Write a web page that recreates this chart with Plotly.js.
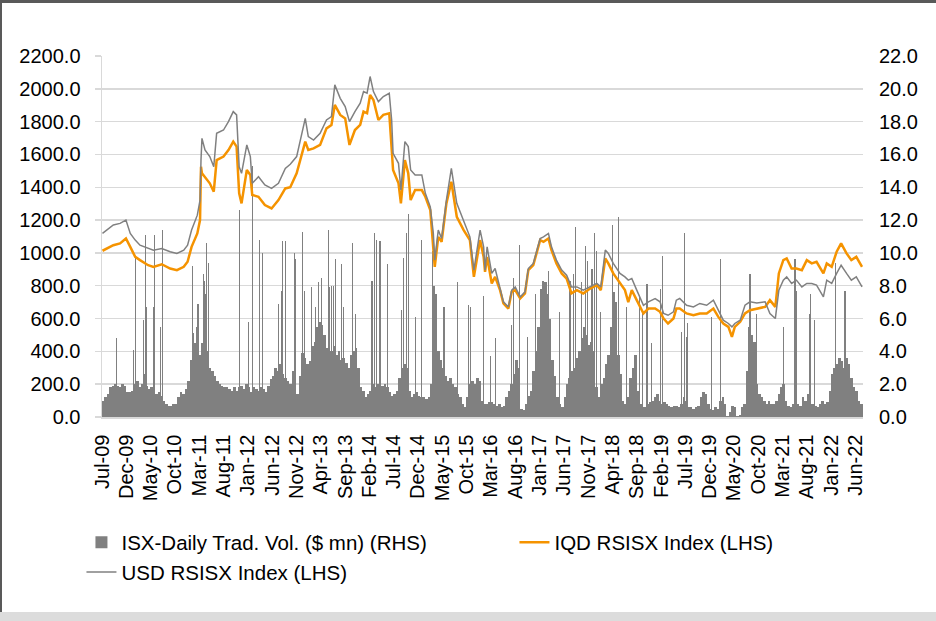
<!DOCTYPE html>
<html>
<head>
<meta charset="utf-8">
<script src="https://cdn.plot.ly/plotly-3.0.1.min.js"></script>
<style>
  html, body { margin: 0; padding: 0; background: #ffffff; }
  #wrap { position: relative; width: 936px; height: 621px; overflow: hidden; }
  #chart { position: absolute; left: 0; top: 0; width: 936px; height: 621px; }
  .frameTop { position: absolute; left: 0; top: 0; width: 936px; height: 3px; background: #595959; }
  .frameLeft { position: absolute; left: 0; top: 0; width: 2px; height: 612px; background: #595959; }
  .frameBottom { position: absolute; left: 0; top: 612px; width: 936px; height: 9px; background: #dcdcdc; }
</style>
</head>
<body>
<div id="wrap">
  <div id="chart"></div>
  <div class="frameTop"></div>
  <div class="frameLeft"></div>
  <div class="frameBottom"></div>
</div>
<script>
// ---------------- DATA ----------------
// Index lines (LHS)
var lineDates = [
 '2009-07-04','2009-09-10','2009-10-22','2009-11-28','2009-12-25','2010-01-25','2010-02-24','2010-04-16','2010-05-19','2010-07-10',
 '2010-09-01','2010-10-13','2010-11-25','2010-12-19','2011-01-13','2011-02-18','2011-03-07','2011-03-13','2011-03-19','2011-04-07',
 '2011-05-07','2011-06-01','2011-06-19','2011-08-01','2011-09-01','2011-10-01','2011-10-22','2011-11-07','2011-11-22','2011-12-25',
 '2012-01-16','2012-01-28','2012-03-07','2012-04-16','2012-05-28','2012-07-10','2012-08-22','2012-09-22','2012-11-01','2012-12-25',
 '2013-01-13','2013-02-15','2013-03-28','2013-05-07','2013-06-07','2013-06-28','2013-08-01','2013-09-01','2013-09-28','2013-11-01',
 '2013-12-04','2013-12-25','2014-01-16','2014-02-04','2014-02-25','2014-03-28','2014-04-28','2014-06-04','2014-06-19','2014-06-28',
 '2014-08-01','2014-08-16','2014-09-10','2014-10-01','2014-10-16','2014-11-13','2014-12-25','2015-01-16','2015-02-16','2015-03-07',
 '2015-03-16','2015-04-07','2015-04-28','2015-05-28','2015-06-28','2015-08-01','2015-09-13','2015-10-22','2015-11-16','2015-12-25',
 '2016-01-16','2016-01-25','2016-02-07','2016-03-07','2016-03-28','2016-04-28','2016-05-19','2016-06-19','2016-07-10','2016-08-01',
 '2016-09-01','2016-10-01','2016-10-22','2016-11-22','2017-01-04','2017-01-25','2017-02-25','2017-03-16','2017-04-16','2017-05-19',
 '2017-06-19','2017-07-19','2017-08-22','2017-10-01','2017-11-13','2017-12-25','2018-01-19','2018-02-16','2018-03-07','2018-04-07',
 '2018-05-19','2018-06-19','2018-07-10','2018-08-01','2018-09-01','2018-10-13','2018-11-13','2018-12-25','2019-01-25','2019-02-16',
 '2019-03-16','2019-04-19','2019-05-07','2019-05-28','2019-07-10','2019-08-22','2019-10-01','2019-11-13','2019-12-25','2020-01-25',
 '2020-02-25','2020-03-28','2020-04-19','2020-05-07','2020-06-10','2020-07-10','2020-08-10','2020-09-22','2020-11-13','2020-12-13',
 '2021-01-16','2021-02-07','2021-03-07','2021-03-28','2021-04-28','2021-05-28','2021-07-01','2021-08-01','2021-09-01','2021-10-01',
 '2021-11-13','2021-12-04','2022-01-04','2022-02-04','2022-03-04','2022-04-07','2022-05-07','2022-06-07','2022-07-13'
];
var usdIndex = [
 1119,1170,1180,1200,1119,1078,1047,1027,1017,1027,
 1007,997,1017,1047,1139,1230,1322,1566,1698,1627,
 1587,1525,1729,1749,1800,1861,1841,1525,1485,1658,
 1587,1424,1464,1414,1393,1424,1515,1540,1587,1820,
 1709,1688,1729,1810,1831,2024,1942,1892,1800,1861,
 1912,1983,1973,2075,1983,1922,1953,1973,1810,1607,
 1546,1383,1678,1648,1505,1475,1475,1363,1281,1119,
 956,1139,1088,1322,1515,1302,1200,1098,895,1139,
 1037,895,1037,875,905,793,702,671,773,793,
 732,763,905,936,1088,1098,1119,1037,956,895,
 864,793,793,773,793,814,793,1017,997,936,
 875,854,834,844,773,681,702,722,702,631,
 620,641,712,722,681,671,692,681,712,651,
 590,570,549,570,590,681,702,695,702,631,
 600,773,834,854,814,834,793,814,814,804,
 732,834,814,875,925,875,834,854,793
];
var iqdIndex = [
 1013,1047,1058,1088,1037,976,956,925,915,931,
 905,895,915,946,1037,1119,1200,1525,1485,1464,
 1424,1373,1566,1587,1627,1678,1648,1363,1302,1505,
 1475,1353,1342,1292,1271,1322,1393,1400,1485,1678,
 1627,1637,1658,1759,1780,1902,1841,1820,1658,1749,
 1780,1861,1851,1963,1932,1810,1841,1851,1648,1505,
 1424,1302,1566,1485,1322,1383,1383,1342,1261,1037,
 915,1098,1068,1302,1434,1220,1139,1078,854,1078,
 976,885,976,814,854,773,692,661,763,773,
 722,753,895,925,1078,1068,1088,1017,936,875,
 844,753,773,753,783,804,773,966,936,875,
 814,773,700,773,712,631,661,661,641,600,
 570,600,661,661,631,620,631,631,661,610,
 570,549,488,549,580,631,651,661,671,712,
 671,875,956,966,905,905,895,956,936,946,
 875,936,915,1007,1058,997,956,976,915
];

// Daily trading volume (RHS): typical level per half-month, Jul-09 .. Jul-22
var volStartYear = 2009, volStartMonth = 7;
var volBody = [
 1.0,1.2, 1.4,1.8, 1.9,2.0, 1.9,1.8, 2.0,1.9, 1.5,1.5,
 1.6,2.0, 2.2,1.8, 2.0,2.6, 1.9,1.7, 1.8,2.0, 1.4,1.5, 1.3,1.0, 0.8,0.7, 0.7,0.8, 0.8,1.2, 1.5,1.4, 1.7,2.2,
 3.5,4.2, 4.5,4.0, 3.8,4.5, 4.8,4.0, 3.0,2.8, 2.5,2.2, 2.0,1.9, 1.8,1.8, 1.7,1.6, 1.8,1.6, 1.8,1.9, 1.7,2.0,
 1.8,1.5, 1.8,1.7, 1.6,1.8, 1.7,1.5, 1.9,2.3, 2.5,3.0, 2.8,3.2, 2.6,2.4, 2.2,2.0, 2.8,2.5, 1.4,2.5, 3.9,3.6,
 3.2,3.4, 4.3,4.6, 5.5,5.8, 5.6,5.0, 4.2,4.5, 4.0,4.3, 3.8,4.0, 3.5,3.6, 3.3,3.0, 3.8,4.0, 4.2,3.0, 1.8,1.6,
 1.2,1.4, 1.6,2.0, 1.8,2.0, 2.2,1.9, 2.0,1.8, 1.5,1.3, 1.4,1.6, 2.4,3.0, 3.2,3.0, 1.6,1.2, 1.4,1.5, 1.3,1.2,
 1.2,1.1, 1.2,2.0, 8.0,7.5, 4.0,3.5, 3.0,2.5, 2.2,2.4, 2.0,1.8, 1.4,1.2, 0.8,0.6, 1.2,2.0, 2.2,2.0, 2.4,2.2,
 1.0,0.8, 0.8,0.9, 0.9,0.8, 0.7,0.8, 0.6,0.7, 1.2,1.6, 2.0,2.6, 3.5,3.0, 0.5,0.4, 0.8,1.3, 1.6,2.8, 4.0,5.5,
 7.8,8.3, 8.2,7.5, 6.0,3.5, 2.5,1.2, 0.8,0.6, 1.2,2.0, 2.4,2.8, 3.0,3.6, 4.0,4.8, 5.5,5.0, 4.4,4.6, 4.0,1.8,
 1.2,2.0, 2.4,3.2, 3.8,5.5, 7.6,7.0, 3.8,2.6, 1.0,0.8, 1.2,2.4, 3.0,3.8, 1.6,0.8, 0.6,0.6, 0.8,0.9, 1.0,1.2,
 1.4,1.0, 0.8,0.9, 0.8,0.7, 0.6,0.7, 0.7,0.6, 0.8,1.2, 1.0,0.6, 0.6,0.5, 0.6,0.7, 1.2,1.5, 1.4,0.8, 0.5,0.4,
 0.6,0.5, 1.0,1.2, 0.8,0.05, 0.3,0.7, 0.6,0.05, 0.1,0.6, 0.8,2.8, 5.5,5.0, 4.6,2.0, 1.4,1.2, 1.0,0.8, 1.0,0.8,
 0.8,1.0, 1.4,1.8, 2.0,1.0, 0.7,0.6, 0.8,1.2, 0.8,0.7, 1.2,1.0, 1.4,0.8, 0.8,0.7, 0.6,0.8, 1.0,0.8, 0.9,1.6,
 2.6,3.0, 3.2,3.6, 3.4,3.0, 3.6,3.2, 2.4,1.8, 1.6,1.0, 0.8,0.5
];
// Single-day volume spikes (RHS)
var spikeDates = [
 '2009-09-28','2010-01-13','2010-01-25','2010-03-16','2010-04-01','2010-04-07','2010-05-19','2010-05-28','2010-07-04','2010-07-13',
 '2011-01-19','2011-01-25','2011-02-16','2011-02-22','2011-03-28','2011-04-04','2011-04-07','2011-04-16','2011-04-28','2011-11-10',
 '2012-01-04','2012-01-28','2012-03-16','2012-04-01','2012-07-10','2012-08-01','2012-08-07','2012-08-25','2012-10-16','2012-10-22',
 '2012-12-10','2012-12-19','2013-02-01','2013-02-25','2013-03-16','2013-04-04','2013-05-19','2013-05-28','2013-06-10','2013-06-22',
 '2013-07-04','2013-08-07','2013-08-19','2013-10-19','2013-11-04','2014-02-16','2014-03-01','2014-03-16','2014-04-07','2014-05-25',
 '2014-08-22','2014-09-01','2014-09-22','2014-10-04','2014-11-16','2014-12-25','2015-03-01','2015-05-13','2015-08-04','2015-10-13',
 '2015-10-28','2016-01-16','2016-03-01','2016-03-28','2016-07-07','2016-07-19','2016-08-28','2016-10-16','2016-12-04','2017-02-25',
 '2017-05-07','2017-07-10','2017-08-01','2017-08-16','2017-09-22','2017-10-13','2017-10-28','2017-11-25','2017-12-10','2017-12-22',
 '2018-01-19','2018-04-04','2018-05-07','2018-06-28','2018-09-19','2018-10-07','2018-11-04','2018-12-04','2019-01-25','2019-02-07',
 '2019-06-10','2019-06-25','2019-07-07','2019-07-16','2019-12-13','2020-02-07','2020-08-10','2020-09-19','2021-03-07','2021-05-19',
 '2021-05-28','2021-08-16','2021-08-25','2021-09-16','2022-01-25','2022-03-28'
];
var spikeVol = [
 4.8,4.1,9.8,5.9,11.1,6.7,6.7,11.1,5.5,11.4,
 9.2,5.1,5.5,6.9,8.7,8.3,7.5,10.6,9.4,12.6,
 5.8,15.3,10.8,10.0,6.9,7.7,10.7,10.7,10.0,9.6,
 11.3,7.7,7.9,6.7,8.2,8.5,11.4,7.9,8.0,8.0,
 9.6,9.3,6.7,10.6,6.3,8.3,11.2,10.8,10.7,9.3,
 6.5,9.7,11.2,12.4,6.1,10.8,10.1,6.7,8.2,6.8,
 6.7,7.4,3.7,4.8,5.6,8.5,10.5,4.9,7.5,8.9,
 6.4,8.3,8.7,11.6,8.2,10.4,9.5,9.0,11.2,10.1,
 6.4,11.7,12.2,6.7,7.3,6.5,8.1,4.5,7.8,9.8,
 5.2,11.2,4.9,5.7,6.1,9.6,8.7,6.3,5.5,9.6,
 7.7,6.3,7.5,5.9,9.4,7.7
];

var seriesNames = ['ISX-Daily Trad. Vol. ($ mn) (RHS)', 'IQD RSISX Index (LHS)', 'USD RSISX Index (LHS)'];

// ---------------- BUILD ----------------
function pad(n) { return (n < 10 ? '0' : '') + n; }
var volDates = [];
(function () {
  var y = volStartYear, m = volStartMonth;
  for (var i = 0; i < volBody.length; i += 2) {
    volDates.push(y + '-' + pad(m) + '-08');
    volDates.push(y + '-' + pad(m) + '-23');
    m++; if (m > 12) { m = 1; y++; }
  }
})();
var DAY = 86400000;
var FONT = 'Liberation Sans, Arial, sans-serif';
var GREY = '#808080';
var ORANGE = '#F59300';
var GRID = '#d9d9d9';

var traces = [
  { type: 'bar', name: seriesNames[0], x: volDates, y: volBody, yaxis: 'y',
    width: volDates.map(function () { return 16 * DAY; }),
    marker: { color: GREY, line: { width: 0 } }, hoverinfo: 'x+y' },
  { type: 'bar', name: seriesNames[0], x: spikeDates, y: spikeVol, yaxis: 'y', showlegend: false,
    width: spikeDates.map(function () { return 7 * DAY; }),
    marker: { color: GREY, line: { width: 0 } }, hoverinfo: 'x+y' },
  { type: 'scatter', mode: 'lines', name: seriesNames[1], x: lineDates, y: iqdIndex, yaxis: 'y2',
    line: { color: ORANGE, width: 2.5 } },
  { type: 'scatter', mode: 'lines', name: seriesNames[2], x: lineDates, y: usdIndex, yaxis: 'y2',
    line: { color: GREY, width: 1.5 } }
];

var layout = {
  width: 936, height: 621,
  margin: { l: 102, r: 73, t: 56, b: 204, pad: 0, autoexpand: false },
  paper_bgcolor: 'rgba(0,0,0,0)', plot_bgcolor: 'rgba(0,0,0,0)',
  font: { family: FONT, size: 20, color: '#000000' },
  barmode: 'overlay', bargap: 0,
  showlegend: true,
  xaxis: {
    type: 'date', range: ['2009-07-01', '2022-07-19'],
    tick0: '2009-07-01', dtick: 'M5', tickformat: '%b-%y', tickangle: -90,
    showgrid: false, zeroline: false, showline: true, linecolor: GRID, linewidth: 1.5,
    ticks: '', ticklabelstandoff: 8,
    tickfont: { family: FONT, size: 20, color: '#000000' }
  },
  yaxis: {
    side: 'right', range: [0, 22], dtick: 2, tick0: 0, tickformat: '.1f',
    showgrid: true, gridcolor: GRID, gridwidth: 1.5, zeroline: false, showline: false,
    ticks: '', ticklabelstandoff: 15,
    tickfont: { family: FONT, size: 20, color: '#000000' }
  },
  yaxis2: {
    side: 'left', overlaying: 'y', range: [0, 2200], dtick: 200, tick0: 0, tickformat: '.1f',
    showgrid: false, zeroline: false, showline: true, linecolor: GRID, linewidth: 1.5,
    ticks: 'outside', ticklen: 6, tickcolor: GRID, tickwidth: 1.5, ticklabelstandoff: 10,
    tickfont: { family: FONT, size: 20, color: '#000000' }
  },
  legend: {
    orientation: 'h', xref: 'paper', yref: 'paper',
    x: -0.027, y: -0.292, xanchor: 'left', yanchor: 'top',
    entrywidth: 388, entrywidthmode: 'pixels',
    font: { family: FONT, size: 20.5, color: '#000000' },
    bgcolor: 'rgba(0,0,0,0)', traceorder: 'normal'
  }
};

Plotly.newPlot('chart', traces, layout, { displayModeBar: false, staticPlot: true });
</script>
</body>
</html>
